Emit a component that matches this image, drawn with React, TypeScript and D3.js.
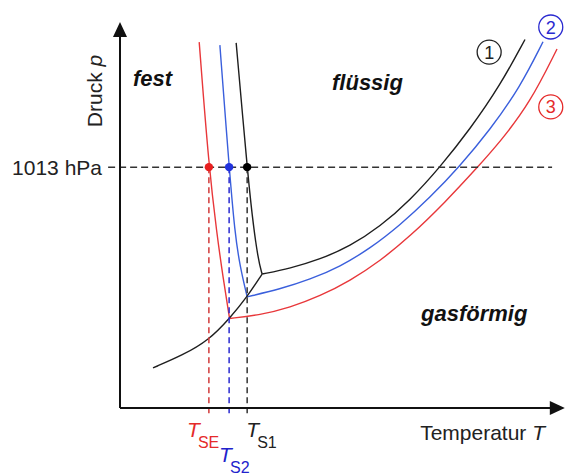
import React from "react";
import * as d3 from "d3";

type Pt = [number, number];

// Temperatur (arb. Einheit) / Druck (arb. Einheit)
const sublimation: Pt[] = [
  [7.5, 10.4], [14.3, 13.7], [20.2, 17.6], [24.9, 23.2], [28.9, 28.8], [32.3, 34.7],
];

const melt1: Pt[] = [[26.4, 94.6], [28.9, 62.4], [30.0, 50.0], [31.4, 38.3], [32.3, 34.7]];
const melt2: Pt[] = [[22.7, 94.0], [24.8, 62.4], [26.1, 45.3], [27.3, 36.5], [28.9, 28.8]];
const meltE: Pt[] = [[18.0, 94.8], [20.2, 62.4], [22.0, 45.3], [23.4, 33.9], [24.9, 23.2]];

const vap1: Pt[] = [
  [32.3, 34.7], [38.64, 36.17], [45.45, 38.5], [52.27, 41.92], [59.09, 46.97],
  [65.91, 53.81], [72.73, 62.4], [79.55, 72.23], [86.36, 83.5], [92.05, 95.47],
];
const vap2: Pt[] = [
  [28.9, 28.8], [36.36, 30.8], [43.18, 33.29], [50.0, 36.63], [56.82, 41.3],
  [63.64, 47.36], [70.45, 54.51], [77.05, 62.4], [84.09, 72.05], [90.91, 83.08], [96.14, 94.87],
];
const vapE: Pt[] = [
  [24.9, 23.2], [31.82, 24.09], [38.64, 26.04], [45.45, 28.99], [52.27, 32.95],
  [59.09, 38.08], [65.91, 44.46], [73.86, 53.24], [81.36, 62.5], [86.36, 68.91],
  [93.18, 79.02], [99.32, 93.01],
];

const pNormal = 62.4; // 1013 hPa
const meltTemps = [
  { t: 20.2, text: "#e52a2a", dash: "#d23a3a", dot: "#e82020", sub: "SE", dx: -22, dy: 0 },
  { t: 24.8, text: "#2222cc", dash: "#2a2ad0", dot: "#2233dd", sub: "S2", dx: -10, dy: 25 },
  { t: 28.9, text: "#222222", dash: "#333333", dot: "#000000", sub: "S1", dx: -1, dy: 0 },
];

const curveColors = { c1: "#1e1e1e", c2: "#3a5fdc", cE: "#e8373a" };

const markers = [
  { label: "1", t: 83.9, p: 92.2, color: "#222222" },
  { label: "2", t: 97.9, p: 98.7, color: "#2a2ad0" },
  { label: "3", t: 97.9, p: 78.0, color: "#e52a2a" },
];

export default function App() {
  const width = 569;
  const height = 476;
  const x = d3.scaleLinear().domain([0, 100]).range([120, 560]);
  const y = d3.scaleLinear().domain([0, 100]).range([408, 22]);

  const line = d3
    .line<Pt>()
    .x((d) => x(d[0]))
    .y((d) => y(d[1]))
    .curve(d3.curveBasis);

  const font = "'Liberation Sans', Arial, Helvetica, sans-serif";
  const x0 = x(0);
  const y0 = y(0);
  const xEnd = x(101.1);
  const yEnd = y(100);

  const curves = [
    { d: vapE, c: curveColors.cE },
    { d: meltE, c: curveColors.cE },
    { d: vap2, c: curveColors.c2 },
    { d: melt2, c: curveColors.c2 },
    { d: vap1, c: curveColors.c1 },
    { d: melt1, c: curveColors.c1 },
    { d: sublimation, c: curveColors.c1 },
  ];

  return (
    <svg
      width={width}
      height={height}
      style={{ position: "absolute", left: 0, top: 0, background: "#fff" }}
      fontFamily={font}
    >
      {/* Kurven */}
      <g fill="none" strokeWidth={1.4}>
        {curves.map((c, i) => (
          <path key={i} d={line(c.d) ?? ""} stroke={c.c} />
        ))}
      </g>

      {/* 1013 hPa Linie */}
      <line
        x1={x(-2.7)}
        x2={x(98.2)}
        y1={y(pNormal)}
        y2={y(pNormal)}
        stroke="#333"
        strokeWidth={1.5}
        strokeDasharray="7,4"
      />

      {/* Senkrechte Linien */}
      {meltTemps.map((m) => (
        <line
          key={m.sub}
          x1={x(m.t)}
          x2={x(m.t)}
          y1={y(pNormal)}
          y2={y0 + 6}
          stroke={m.dash}
          strokeWidth={1.5}
          strokeDasharray="6,4"
        />
      ))}

      {/* Achsen */}
      <g stroke="#111" strokeWidth={2}>
        <line x1={x0} y1={y0} x2={x0} y2={yEnd + 12} />
        <line x1={x0} y1={y0} x2={xEnd - 12} y2={y0} />
      </g>
      <path
        d={`M${x0},${yEnd} L${x0 - 7},${yEnd + 15} L${x0 + 7},${yEnd + 15} Z`}
        fill="#111"
      />
      <path
        d={`M${xEnd},${y0} L${xEnd - 15},${y0 - 7} L${xEnd - 15},${y0 + 7} Z`}
        fill="#111"
      />

      {/* Punkte */}
      {meltTemps.map((m) => (
        <circle key={m.sub} cx={x(m.t)} cy={y(pNormal)} r={4.2} fill={m.dot} />
      ))}

      {/* Beschriftungen */}
      <text x={102} y={y(pNormal) + 8} textAnchor="end" fontSize={21} fill="#222">
        1013 hPa
      </text>
      <text
        transform={`translate(102,91) rotate(-90)`}
        textAnchor="middle"
        fontSize={21}
        fill="#222"
      >
        Druck <tspan fontStyle="italic">p</tspan>
      </text>
      <text x={545} y={440} textAnchor="end" fontSize={21} fill="#222">
        Temperatur <tspan fontStyle="italic">T</tspan>
      </text>

      <g fontWeight="bold" fontStyle="italic" fontSize={22} fill="#111">
        <text x={133} y={86}>fest</text>
        <text x={332} y={90}>flüssig</text>
        <text x={421} y={321}>gasförmig</text>
      </g>

      {meltTemps.map((m) => (
        <g key={m.sub} fill={m.text}>
          <text x={x(m.t) + m.dx} y={437 + m.dy} fontSize={21} fontStyle="italic">
            T
          </text>
          <text x={x(m.t) + m.dx + 11} y={448 + m.dy} fontSize={16}>
            {m.sub}
          </text>
        </g>
      ))}

      {markers.map((mk) => (
        <g key={mk.label}>
          <circle cx={x(mk.t)} cy={y(mk.p)} r={12} fill="#fff" stroke={mk.color} strokeWidth={1.3} />
          <text
            x={x(mk.t)}
            y={y(mk.p) + 6.5}
            textAnchor="middle"
            fontSize={18}
            fill={mk.color}
          >
            {mk.label}
          </text>
        </g>
      ))}
    </svg>
  );
}
